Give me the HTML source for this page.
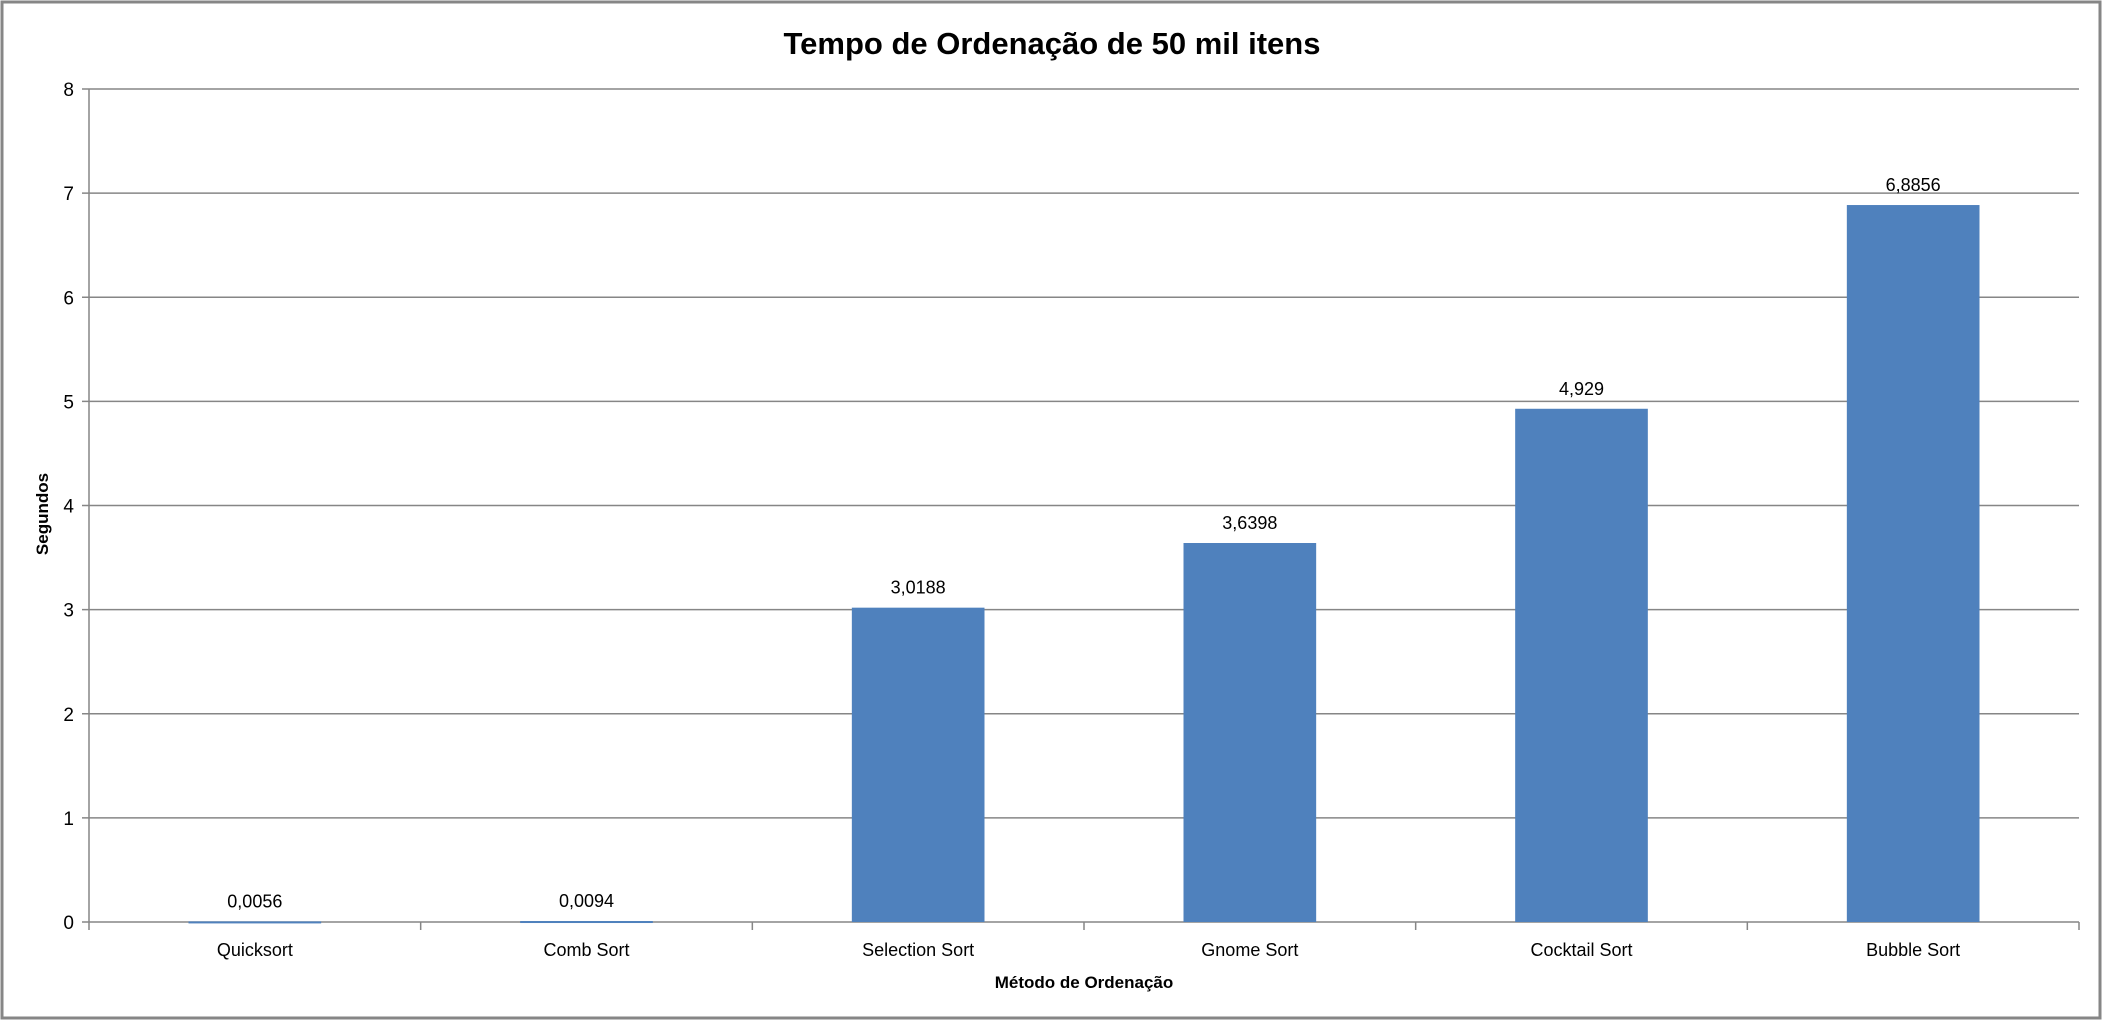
<!DOCTYPE html>
<html><head><meta charset="utf-8"><style>
html,body{margin:0;padding:0;background:#fff}
svg{display:block;font-family:"Liberation Sans",sans-serif}
</style></head><body>
<svg id="chart" width="2104" height="1021">
<rect x="2" y="2" width="2098" height="1016" fill="#fff" stroke="#868686" stroke-width="3"/>
<text x="1052" y="54" text-anchor="middle" font-size="31" font-weight="bold" fill="#000">Tempo de Ordenação de 50 mil itens</text>
<text transform="translate(48,514) rotate(-90)" text-anchor="middle" font-size="17" font-weight="bold">Segundos</text>
<text x="1084" y="988" text-anchor="middle" font-size="17" font-weight="bold">Método de Ordenação</text>
<g id="grid"></g><g id="bars"></g><g id="labels"></g>
</svg>
<script>
const categories = ["Quicksort","Comb Sort","Selection Sort","Gnome Sort","Cocktail Sort","Bubble Sort"];
const values = [0.0056,0.0094,3.0188,3.6398,4.929,6.8856];
const valueLabels = ["0,0056","0,0094","3,0188","3,6398","4,929","6,8856"];
const yTicks = [0,1,2,3,4,5,6,7,8];
const NS="http://www.w3.org/2000/svg";
const L=89,R=2079,T=89,B=922,yMax=8;
const y=v=>B-(v/yMax)*(B-T);
const band=(R-L)/categories.length;
const x=i=>L+band*(i+0.5);
function mk(tag,attrs,parent,txt){const e=document.createElementNS(NS,tag);for(const k in attrs)e.setAttribute(k,attrs[k]);if(txt!==undefined)e.textContent=txt;document.getElementById(parent).appendChild(e);return e;}
yTicks.forEach(t=>{
  const g=mk('line',{x1:L-7,x2:R,y1:y(t),y2:y(t),stroke:'#868686','stroke-width':1.5},'grid');
  
  
  const tl=mk('text',{x:L-15,y:y(t)+7,'text-anchor':'end','font-size':19},'grid',String(t));
  
  
});
const ax=mk('line',{x1:L,x2:L,y1:T,y2:B,stroke:'#868686','stroke-width':1.5},'grid');


for(let i=0;i<=categories.length;i++){
  const tk=mk('line',{x1:L+band*i,x2:L+band*i,y1:B,y2:B+8,stroke:'#868686','stroke-width':1.5},'grid');
  
  
}
categories.forEach((c,i)=>{
  const bw=band*0.4;
  const r=mk('rect',{x:x(i)-bw/2,y:y(values[i]),width:bw,height:Math.max(B-y(values[i]),2),fill:'#4F81BD'},'bars');
  
  
  const vl=mk('text',{x:x(i),y:y(values[i])-14,'text-anchor':'middle','font-size':18},'labels',valueLabels[i]);
  
  
  const cl=mk('text',{x:x(i),y:956,'text-anchor':'middle','font-size':18},'labels',c);
  
  
});
</script>
</body></html>
